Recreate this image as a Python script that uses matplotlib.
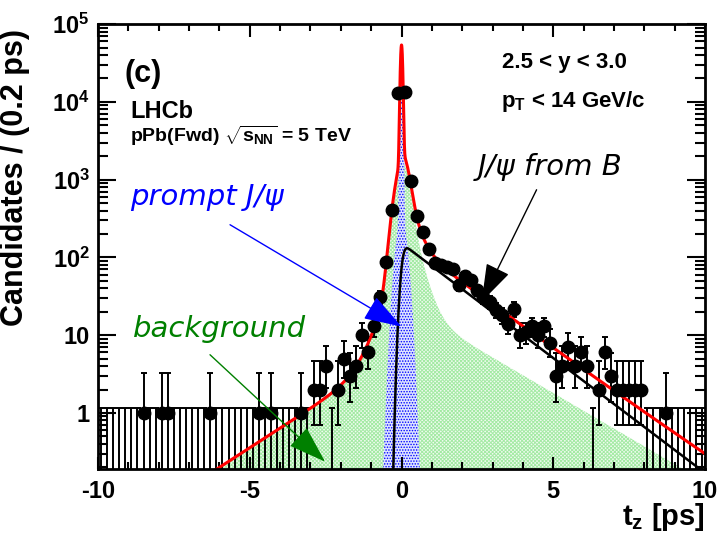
import math
import numpy as np
import matplotlib
matplotlib.use('Agg')
import matplotlib.pyplot as plt
from matplotlib.ticker import MultipleLocator, LogLocator, NullFormatter

plt.rcParams['font.family'] = 'Liberation Sans'
plt.rcParams['font.weight'] = 'bold'
plt.rcParams['mathtext.fontset'] = 'custom'
plt.rcParams['mathtext.rm'] = 'Liberation Sans:bold'
plt.rcParams['mathtext.it'] = 'Liberation Sans:bold'
plt.rcParams['mathtext.bf'] = 'Liberation Sans:bold'
plt.rcParams['mathtext.default'] = 'rm'
plt.rcParams['hatch.linewidth'] = 0.7

# ---- data: candidates per 0.2 ps bin, bins from -10 to 10 ps ----
bin_centers = np.round(np.arange(-9.9, 10.0, 0.2), 1)
counts = np.array([
    0, 0, 0, 0, 0, 0, 0, 1, 0, 0,          # -9.9 .. -8.1
    1, 1, 0, 0, 0, 0, 0, 0, 1, 0,          # -7.9 .. -6.1
    0, 0, 0, 0, 0, 0, 1, 0, 1, 0,          # -5.9 .. -4.1
    0, 0, 0, 1, 0, 2, 2, 4, 0, 2,          # -3.9 .. -2.1
    5, 3, 4, 10, 6, 13, 31, 86, 410, 13000,  # -1.9 .. -0.1
    13500, 950, 336, 215, 130, 84, 80, 75, 70, 44,  # 0.1 .. 1.9
    57, 51, 38, 31, 27, 21, 18, 14, 22, 10,  # 2.1 .. 3.9
    11, 13, 10, 13, 8, 3, 4, 7, 4, 6,      # 4.1 .. 5.9
    4, 0, 2, 6, 3, 2, 2, 2, 2, 2,          # 6.1 .. 7.9
    0, 0, 0, 1, 0, 0, 0, 0, 0, 0,          # 8.1 .. 9.9
])
assert len(counts) == len(bin_centers)

# Poisson (68%) interval limits for small counts, N = 0..10
poisson_low = [0.0, 0.173, 0.708, 1.367, 2.086, 2.840, 3.620, 4.419, 5.232, 6.057, 6.891]
poisson_up = [1.148, 3.300, 4.638, 5.918, 7.163, 8.382, 9.584, 10.77, 11.95, 13.11, 14.27]

# ---- fit components (parameters) ----
prompt_core = (5.2e4, 0.033)
prompt_wide = (300.0, 0.157)
resolution = 0.09
fromB_par = (152.0, 1.47)
bkg_core = (1035.0, 0.204)
bkg_right = [(1100.0, 0.25), (25.0, 1.9)]
bkg_left = [(145.0, 0.3125), (6.5, 1.72)]

erfc = np.frompyfunc(math.erfc, 1, 1)


def gauss(t, a, s):
    return a * np.exp(-0.5 * (t / s) ** 2)


def decay(t, a, tau, s=resolution):
    # exponential decay convolved with a gaussian resolution
    arg = (s / tau - t / s) / math.sqrt(2)
    return a * 0.5 * np.exp(s * s / (2 * tau * tau) - t / tau) * erfc(arg).astype(float)


t = np.linspace(-10, 10, 8001)
prompt = gauss(t, *prompt_core) + gauss(t, *prompt_wide)
fromB = decay(t, *fromB_par)
bkg = gauss(t, *bkg_core)
for a, tau in bkg_right:
    bkg = bkg + decay(t, a, tau)
for a, tau in bkg_left:
    bkg = bkg + decay(-t, a, tau)
total = prompt + fromB + bkg

# ---- figure ----
fig = plt.figure(figsize=(7.17, 5.36), dpi=100)
ax = fig.add_axes([0.1367, 0.125, 0.8466, 0.830])
ax.set_yscale('log')
ax.set_xlim(-10, 10)
ax.set_ylim(0.19, 1e5)

ax.fill_between(t, 1e-3, bkg, facecolor='#f1fbf1', edgecolor='#a4eaa4',
                hatch='x' * 9, linewidth=0)
ax.fill_between(t, 1e-3, prompt, facecolor='#dde4ff', edgecolor='#0000ff',
                hatch='.' * 6, linewidth=0)

# error bars
cnt = counts.astype(float)
low = np.array([poisson_low[n] if n <= 10 else n - math.sqrt(n) for n in counts])
up = np.array([poisson_up[n] if n <= 10 else n + math.sqrt(n) for n in counts])

zero = counts == 0
ax.vlines(bin_centers[zero], 1e-2, up[zero], color='k', lw=1.4)
ax.hlines(up[zero], bin_centers[zero] - 0.1, bin_centers[zero] + 0.1, color='k', lw=1.4)

nz = ~zero
ax.errorbar(bin_centers[nz], cnt[nz], yerr=[cnt[nz] - low[nz], up[nz] - cnt[nz]],
            fmt='o', color='k', ms=9, elinewidth=1.4, capsize=2.2, capthick=1.4)

ax.plot(t, fromB, color='k', lw=1.8)
ax.plot(t, total, color='#ff0000', lw=2.2)

# axes styling
for sp in ax.spines.values():
    sp.set_linewidth(2)
ax.xaxis.set_major_locator(MultipleLocator(5))
ax.xaxis.set_minor_locator(MultipleLocator(1))
ax.set_xticks([-10, -5, 0, 5, 10], labels=['-10', '-5', '0', '5', '10'])
ax.set_yticks([1, 10, 1e2, 1e3, 1e4, 1e5],
              labels=['1', '10', '$10^{2}$', '$10^{3}$', '$10^{4}$', '$10^{5}$'])
ax.yaxis.set_minor_locator(LogLocator(base=10, subs=np.arange(2, 10)))
ax.yaxis.set_minor_formatter(NullFormatter())
ax.tick_params(which='both', direction='in', top=True, right=True, width=1.5)
ax.tick_params(axis='x', which='major', length=9, pad=8, labelsize=17)
ax.tick_params(axis='x', which='minor', length=5)
ax.tick_params(axis='y', which='major', length=13, pad=6, labelsize=17)
ax.tick_params(axis='y', which='minor', length=7)

ax.set_ylabel('Candidates / (0.2 ps)', fontsize=22, fontweight='bold')
ax.yaxis.set_label_coords(-0.112, 0.656)
ax.set_xlabel(r'$t_{z}$ [ps]', fontsize=21, fontweight='bold', loc='right')
ax.xaxis.set_label_coords(1.0, -0.072)

tr = ax.transAxes
ax.text(0.044, 0.870, '(c)', transform=tr, fontsize=22, va='baseline')
ax.text(0.053, 0.789, 'LHCb', transform=tr, fontsize=17, va='baseline')
ax.text(0.053, 0.735, r'pPb(Fwd) $\sqrt{s_{NN}}$ = 5 TeV', transform=tr,
        fontsize=14, va='baseline')
ax.text(0.665, 0.901, '2.5 < y < 3.0', transform=tr, fontsize=16, va='baseline')
ax.text(0.664, 0.813, r'$p_{T}$ < 14 GeV/c', transform=tr, fontsize=16, va='baseline')

italic = dict(family='DejaVu Sans', style='italic', fontweight='normal', fontsize=21,
              va='baseline')
ax.text(-8.95, 475, 'prompt J/ψ', color='#0000ff', **italic)
ax.text(2.52, 1150, 'J/ψ from B', color='k', **italic)
ax.text(-8.85, 9.5, 'background', color='#008000', **italic)

arrow = '-|>,head_length=1.2,head_width=0.4'
ax.annotate('', xy=(0.0, 12.9), xytext=(-5.65, 263),
            arrowprops=dict(arrowstyle=arrow, color='#0000ff', lw=1, mutation_scale=20,
                            shrinkA=0, shrinkB=0))
ax.annotate('', xy=(2.64, 27), xytext=(4.45, 741),
            arrowprops=dict(arrowstyle=arrow, color='k', lw=1, mutation_scale=20,
                            shrinkA=0, shrinkB=0))
ax.annotate('', xy=(-2.52, 0.236), xytext=(-6.31, 5.6),
            arrowprops=dict(arrowstyle=arrow, color='#008000', lw=1, mutation_scale=20,
                            shrinkA=0, shrinkB=0))

fig.savefig('out.png', dpi=100)
